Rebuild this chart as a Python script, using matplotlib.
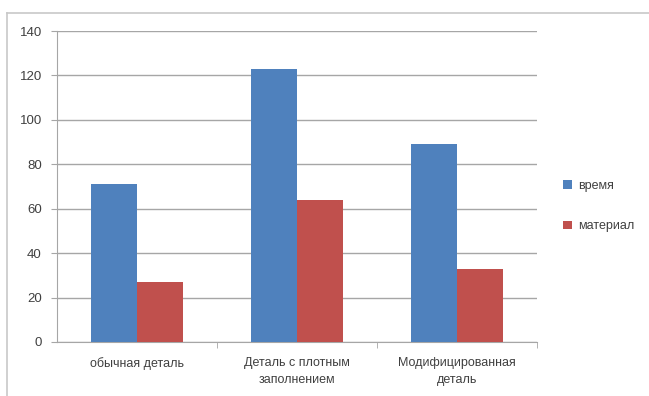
import matplotlib.pyplot as plt
import numpy as np
from matplotlib.lines import Line2D

categories = ['обычная деталь', 'Деталь с плотным\nзаполнением', 'Модифицированная\nдеталь']
vremya = [71, 123, 89]
material = [27, 64, 33]
yticks = [0, 20, 40, 60, 80, 100, 120, 140]

plt.rcParams['font.family'] = ['Liberation Sans', 'DejaVu Sans']

fig = plt.figure(figsize=(6.49, 3.96), dpi=100)
ax = fig.add_axes([0.0878, 0.1364, 0.7396, 0.7853])

x = np.arange(len(categories))
w = 0.285
ax.bar(x - w / 2, vremya, w, color='#4F81BD', label='время', zorder=3)
ax.bar(x + w / 2, material, w, color='#C0504D', label='материал', zorder=3)

ax.set_xlim(-0.5, 2.5)
ax.set_ylim(0, 140)
ax.set_yticks(yticks)
ax.yaxis.grid(True, color='#a6a6a6', linewidth=1.0, zorder=0)

for side in ['top', 'right']:
    ax.spines[side].set_visible(False)
ax.spines['left'].set_color('#a6a6a6')
ax.spines['bottom'].set_color('#a6a6a6')

ax.set_xticks(x)
ax.set_xticklabels(categories, fontsize=9, color='#404040', linespacing=1.5)
ax.tick_params(axis='x', length=0, pad=11)
ax.set_xticks([0.5, 1.5, 2.5], minor=True)
ax.tick_params(axis='x', which='minor', length=4, color='#a6a6a6')
ax.tick_params(axis='y', length=4, color='#a6a6a6', labelsize=9.5, labelcolor='#404040', pad=7)

fig.legend(loc='center left', bbox_to_anchor=(0.85, 0.48), frameon=False,
           fontsize=9, handlelength=0.7, handleheight=0.7, labelspacing=2.3,
           handletextpad=0.5, labelcolor='#404040')

# рамка области диаграммы
fig.add_artist(Line2D([7 / 649, 7 / 649], [0, 1 - 13 / 396], color='#c8c8c8', lw=1.2))
fig.add_artist(Line2D([7 / 649, 1], [1 - 13 / 396, 1 - 13 / 396], color='#c8c8c8', lw=1.2))

fig.savefig('out.png', dpi=100)
